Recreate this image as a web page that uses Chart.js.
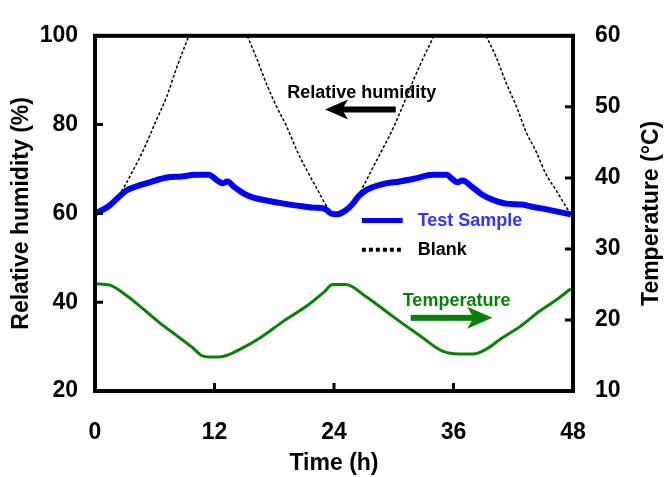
<!DOCTYPE html>
<html>
<head>
<meta charset="utf-8">
<script src="https://cdn.jsdelivr.net/npm/chart.js@4.4.1/dist/chart.umd.min.js"></script>
<style>
    html, body { margin: 0; padding: 0; background: #fff; }
    #wrap { width: 666px; height: 477px; }
</style>
</head>
<body>
<div id="wrap"><canvas id="rhChart"></canvas></div>
<script>
// tick values
const hourTicks = [0, 12, 24, 36, 48];
const rhTicks = [20, 40, 60, 80, 100];
const tempTicks = [10, 20, 30, 40, 50, 60];

// Test Sample relative humidity (%)
const sampleHours = [0, 1.3, 2.2, 3.2, 3.9, 5.5, 7.2, 8.7, 10, 11.4, 12.3, 12.8, 13.3, 14, 15, 16, 17.5, 19, 20.5, 22, 23, 23.7,
    24.3, 25.2, 25.9, 26.4, 27.2, 28.9, 30.6, 32.2, 33.9, 35.3, 35.9, 36.4, 36.9, 37.9, 38.9, 39.9, 41.3, 42.9, 43.9, 45.6, 47.3, 47.8];
const sampleRH = [60, 61.5, 63.3, 65.2, 65.9, 67, 68.1, 68.3, 68.7, 68.7, 67.4, 66.8, 67.2, 65.9, 64.4, 63.5, 62.8, 62.2, 61.7, 61.3, 61.1, 60,
    59.8, 60.7, 62.2, 63.7, 65.2, 66.6, 67.2, 67.9, 68.7, 68.7, 67.7, 67, 67.4, 65.9, 64.2, 63.1, 62.2, 62, 61.5, 60.8, 60, 59.8];

// Blank relative humidity (%), goes off scale above 100
const blankHours = [0, 1.3, 2.5, 3.8, 4.8, 6.2, 7.2, 8.2, 9.2, 9.6, 12.5, 15.1, 16.2, 17.2, 18.2, 19.2, 20.3, 21.3, 22.3, 23.5,
    24.2, 25.2, 26.0, 26.9, 27.9, 28.9, 29.9, 30.9, 31.9, 32.9, 33.9, 34.2, 36.6, 39.05, 40.3, 41.3, 42.3, 43.3, 44.3, 45.3, 46.3, 47.3, 47.8];
const blankRH = [60, 61.5, 64.4, 69.6, 74, 81.2, 86.3, 92.8, 98.7, 101, null, 101, 95.1, 89.3, 84.2, 79.8, 74, 69.6, 65.5, 60.9,
    59.8, 60.7, 62.2, 65.9, 70.3, 74.6, 79, 84.2, 89.6, 94.7, 99.4, 101, null, 101, 95.1, 89.3, 84.2, 78.3, 73.9, 68.8, 65.2, 61.5, 59.8];

// Temperature (C)
const tempHours = [0, 1.5, 3.2, 4.8, 6.5, 8.2, 9.8, 10.7, 11.5, 12.5, 13.2, 14.6, 16.6, 18.9, 21.3, 22.9, 23.9,
    25.2, 27.2, 29.9, 32.6, 34.9, 36.6, 38, 39.3, 40.7, 42.7, 44.7, 46.3, 47.8];
const tempC = [25.1, 24.9, 23.4, 21.6, 19.6, 17.8, 16.1, 15.0, 14.8, 14.8, 15.0, 15.9, 17.5, 19.8, 22.0, 23.8, 25.0,
    25.0, 23.3, 20.5, 17.8, 15.6, 15.2, 15.2, 15.9, 17.3, 19.1, 21.3, 22.8, 24.4];

const FONT = "'Liberation Sans', Arial, sans-serif";
const BLUE = '#0000ff';
const GREEN = '#0a800a';

function toPoints(xs, ys) {
    return xs.map((x, i) => ({ x: x, y: ys[i] }));
}

function setTicks(values) {
    return function (scale) {
        scale.ticks = values.map(v => ({ value: v }));
    };
}

function drawArrow(ctx, fromX, toX, y, color, shaft, headLen, headHalf) {
    const dir = toX > fromX ? 1 : -1;
    const baseX = toX - dir * headLen;
    ctx.fillStyle = color;
    ctx.fillRect(Math.min(fromX, baseX + dir * 4), y - shaft / 2, Math.abs(baseX + dir * 4 - fromX), shaft);
    ctx.beginPath();
    ctx.moveTo(toX, y);
    ctx.lineTo(baseX - dir * 3, y - headHalf);
    ctx.lineTo(baseX + dir * 3, y);
    ctx.lineTo(baseX - dir * 3, y + headHalf);
    ctx.closePath();
    ctx.fill();
}

const overlay = {
    id: 'overlay',
    afterDatasetsDraw(chart) {
        const { ctx, chartArea: a, scales } = chart;
        const x = scales.x, y = scales.y, y1 = scales.y1;
        ctx.save();

        // frame
        ctx.strokeStyle = '#000';
        ctx.lineWidth = 4;
        ctx.strokeRect(a.left, a.top, a.right - a.left, a.bottom - a.top);

        // inward tick marks
        ctx.lineWidth = 3;
        ctx.beginPath();
        hourTicks.forEach(v => {
            const px = x.getPixelForValue(v);
            ctx.moveTo(px, a.bottom);
            ctx.lineTo(px, a.bottom - 8);
        });
        rhTicks.forEach(v => {
            const py = y.getPixelForValue(v);
            ctx.moveTo(a.left, py);
            ctx.lineTo(a.left + 8, py);
        });
        tempTicks.forEach(v => {
            const py = y1.getPixelForValue(v);
            ctx.moveTo(a.right, py);
            ctx.lineTo(a.right - 8, py);
        });
        ctx.stroke();

        // right axis title, reading bottom to top like the left one
        ctx.save();
        ctx.translate(y1.right - 14, (a.top + a.bottom) / 2);
        ctx.rotate(-Math.PI / 2);
        ctx.font = 'bold 23px ' + FONT;
        ctx.fillStyle = '#000';
        ctx.textAlign = 'center';
        ctx.textBaseline = 'middle';
        ctx.fillText('Temperature (°C)', 0, 0);
        ctx.restore();

        // legend
        const lx1 = x.getPixelForValue(26.8), lx2 = x.getPixelForValue(30.9), tx = x.getPixelForValue(32.4);
        const ySample = y.getPixelForValue(58.4), yBlank = y.getPixelForValue(51.8);
        ctx.strokeStyle = BLUE;
        ctx.lineWidth = 5;
        ctx.beginPath();
        ctx.moveTo(lx1, ySample);
        ctx.lineTo(lx2, ySample);
        ctx.stroke();
        ctx.strokeStyle = '#000';
        ctx.lineWidth = 4;
        ctx.setLineDash([4, 3]);
        ctx.beginPath();
        ctx.moveTo(lx1, yBlank);
        ctx.lineTo(lx2, yBlank);
        ctx.stroke();
        ctx.setLineDash([]);
        ctx.font = 'bold 18px ' + FONT;
        ctx.textBaseline = 'middle';
        ctx.textAlign = 'left';
        ctx.fillStyle = '#3333ff';
        ctx.fillText('Test Sample', tx, ySample + 1);
        ctx.fillStyle = '#000';
        ctx.fillText('Blank', tx, yBlank);

        // annotations
        ctx.fillText('Relative humidity', x.getPixelForValue(19.3), y.getPixelForValue(87.1));
        drawArrow(ctx, x.getPixelForValue(30.2), x.getPixelForValue(23.1), y.getPixelForValue(83.4), '#000', 6, 20, 10);
        ctx.fillStyle = GREEN;
        ctx.fillText('Temperature', x.getPixelForValue(30.9), y1.getPixelForValue(22.7));
        drawArrow(ctx, x.getPixelForValue(31.7), x.getPixelForValue(39.9), y1.getPixelForValue(20.3), GREEN, 6, 22, 11);

        ctx.restore();
    }
};

Chart.defaults.font.family = FONT;
Chart.defaults.font.weight = 'bold';
Chart.defaults.color = '#000';

const ctx = document.getElementById('rhChart').getContext('2d');
new Chart(ctx, {
    type: 'line',
    data: {
        datasets: [
            {
                label: 'Test Sample',
                data: toPoints(sampleHours, sampleRH),
                yAxisID: 'y',
                borderColor: BLUE,
                borderWidth: 6,
                pointRadius: 0,
                cubicInterpolationMode: 'monotone'
            },
            {
                label: 'Blank',
                data: toPoints(blankHours, blankRH),
                yAxisID: 'y',
                borderColor: '#000',
                borderWidth: 1.5,
                borderDash: [3, 2],
                pointRadius: 0,
                cubicInterpolationMode: 'monotone'
            },
            {
                label: 'Temperature',
                data: toPoints(tempHours, tempC),
                yAxisID: 'y1',
                borderColor: GREEN,
                borderWidth: 3,
                pointRadius: 0,
                cubicInterpolationMode: 'monotone'
            }
        ]
    },
    options: {
        responsive: true,
        maintainAspectRatio: false,
        animation: false,
        layout: { padding: { top: 24, left: 0, right: 0, bottom: 0 } },
        plugins: {
            legend: { display: false },
            tooltip: { enabled: false }
        },
        scales: {
            x: {
                type: 'linear',
                min: 0,
                max: 48,
                afterBuildTicks: setTicks(hourTicks),
                afterFit: s => { s.height = 86; },
                grid: { display: false, drawTicks: false },
                border: { display: false },
                ticks: { font: { size: 23, weight: 'bold' }, padding: 28, maxRotation: 0 },
                title: { display: true, text: 'Time (h)', font: { size: 23, weight: 'bold' }, padding: { top: 0, bottom: 0 } }
            },
            y: {
                position: 'left',
                min: 20,
                max: 100,
                afterBuildTicks: setTicks(rhTicks),
                afterFit: s => { s.width = 95; },
                grid: { display: false, drawTicks: false },
                border: { display: false },
                ticks: { font: { size: 23, weight: 'bold' }, padding: 17 },
                title: { display: true, text: 'Relative humidity (%)', font: { size: 23, weight: 'bold' }, padding: { top: 8, bottom: 0 } }
            },
            y1: {
                position: 'right',
                min: 10,
                max: 60,
                afterBuildTicks: setTicks(tempTicks),
                afterFit: s => { s.width = 93; },
                grid: { display: false, drawTicks: false },
                border: { display: false },
                ticks: { font: { size: 23, weight: 'bold' }, padding: 22 }
            }
        }
    },
    plugins: [overlay]
});
</script>
</body>
</html>
